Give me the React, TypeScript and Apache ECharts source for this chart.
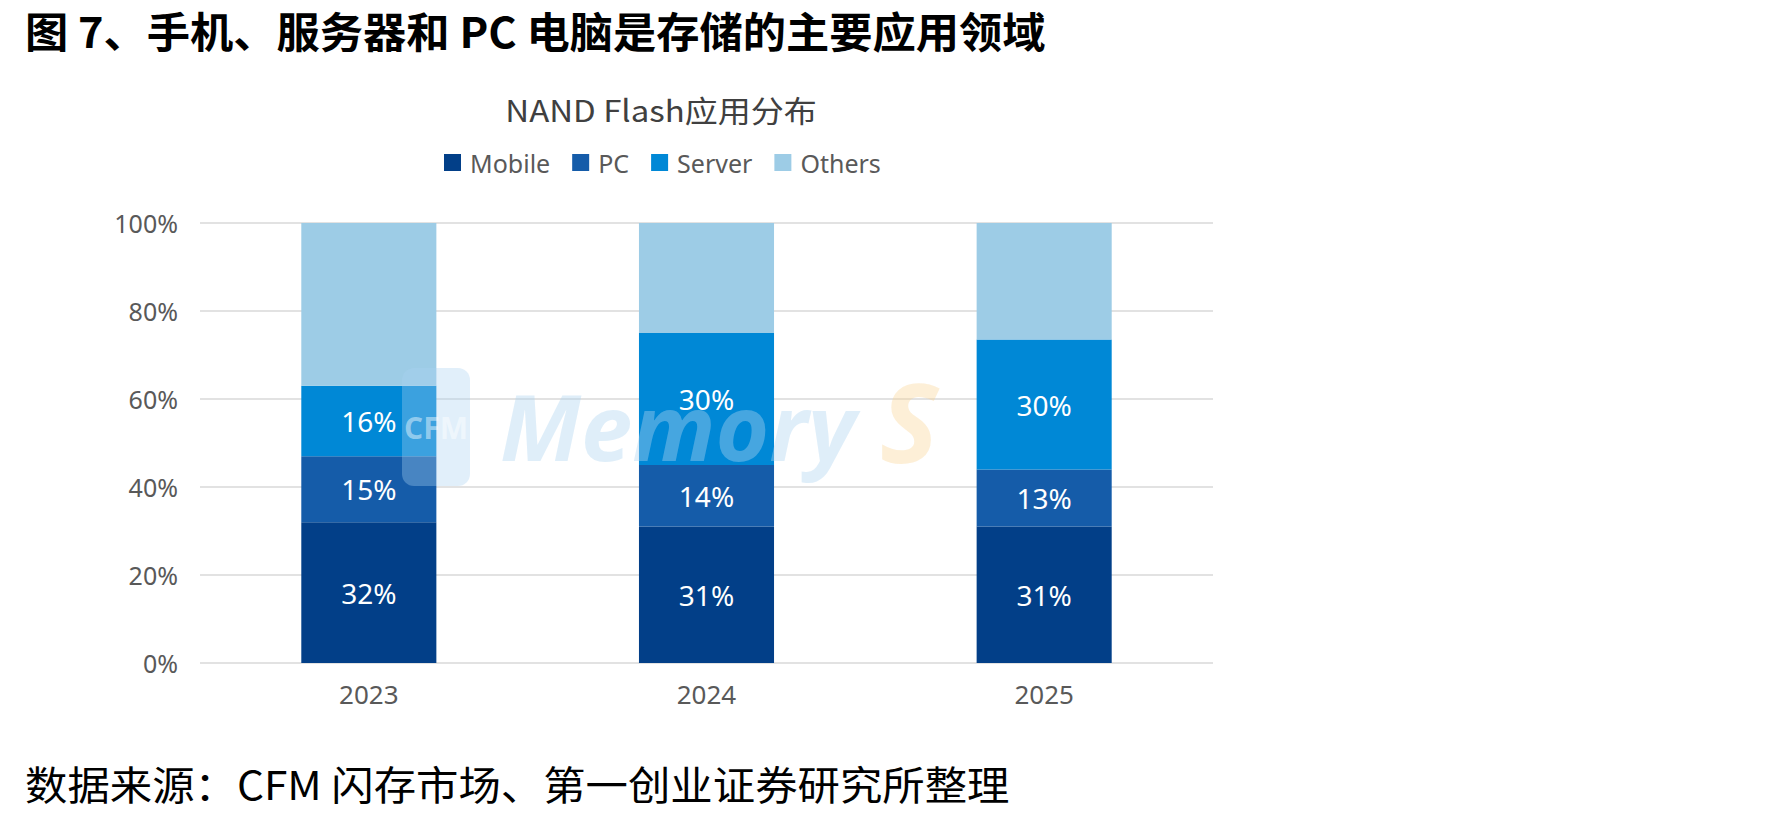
import React, { useEffect, useRef } from "react";
import * as echarts from "echarts";

const categories = ["2023", "2024", "2025"];
const mobile = [32, 31, 31];
const pc = [15, 14, 13];
const server = [16, 30, 29.5];
const others = [37, 25, 26.5];
const yTicks = [0, 20, 40, 60, 80, 100];

const seriesNames = ["Mobile", "PC", "Server", "Others"];
const seriesColors = ["#023f88", "#155ca9", "#0088d6", "#9dcce6"];

export default function App() {
  const ref = useRef<HTMLDivElement>(null);
  useEffect(() => {
    if (!ref.current) return;
    const chart = echarts.init(ref.current, null, { renderer: "svg" });
    const dataSets = [mobile, pc, server, others];
    const series = dataSets.map((d, i) => ({
      name: seriesNames[i],
      type: "bar",
      stack: "total",
      barWidth: "40%",
      data: d,
      itemStyle: { color: seriesColors[i] },
      label: {
        show: i < 3,
        position: "inside",
        color: "#ffffff",
        fontSize: 28,
        fontFamily: "Noto Sans",
        formatter: (p: any) => Math.round(p.value) + "%",
      },
    }));
    chart.setOption({
      animation: false,
      backgroundColor: "#ffffff",
      legend: {
        left: 439,
        top: 145,
        itemWidth: 17,
        itemHeight: 17,
        itemGap: 22,
        icon: "rect",
        textStyle: { fontSize: 25, color: "#595959", fontFamily: "Noto Sans", padding: [0, 0, 0, 4] },
        data: seriesNames,
      },
      grid: { left: 200, right: 565, top: 223, bottom: 156, containLabel: false },
      xAxis: {
        type: "category",
        data: categories,
        axisLine: { show: false },
        axisTick: { show: false },
        axisLabel: { fontSize: 26, color: "#595959", margin: 18, fontFamily: "Noto Sans" },
      },
      yAxis: {
        type: "value",
        min: yTicks[0],
        max: yTicks[yTicks.length - 1],
        interval: 20,
        axisLine: { show: false },
        axisTick: { show: false },
        splitLine: { lineStyle: { color: "#d9d9d9", width: 1.5 } },
        axisLabel: { fontSize: 25, color: "#595959", margin: 22, fontFamily: "Noto Sans", formatter: "{value}%" },
      },
      graphic: [
        {
          type: "text",
          x: 25,
          y: 30,
          scaleX: 1.03,
          style: {
            text: "图 7、手机、服务器和 PC 电脑是存储的主要应用领域",
            font: "bold 42px 'Noto Sans CJK SC'",
            fill: "#000000",
            verticalAlign: "middle",
          },
        },
        {
          type: "text",
          x: 661,
          y: 109,
          scaleX: 1.1,
          style: {
            text: "NAND Flash应用分布",
            font: "30px 'Noto Sans CJK SC'",
            fill: "#404040",
            align: "center",
            verticalAlign: "middle",
          },
        },
        {
          type: "text",
          x: 25,
          y: 783,
          scaleX: 1.06,
          style: {
            text: "数据来源：CFM 闪存市场、第一创业证券研究所整理",
            font: "40px 'Noto Sans CJK SC'",
            fill: "#000000",
            verticalAlign: "middle",
          },
        },
        {
          type: "rect",
          z: 100,
          shape: { x: 402, y: 368, width: 68, height: 118, r: 12 },
          style: { fill: "rgba(170,210,240,0.35)" },
        },
        {
          type: "text",
          z: 101,
          x: 436,
          y: 427,
          style: {
            text: "CFM",
            font: "bold 30px 'Open Sans'",
            fill: "rgba(255,255,255,0.45)",
            align: "center",
            verticalAlign: "middle",
          },
        },
        {
          type: "text",
          z: 100,
          x: 500,
          y: 425,
          style: {
            text: "Memory",
            font: "italic bold 92px 'Open Sans'",
            fill: "rgba(175,212,240,0.4)",
            verticalAlign: "middle",
          },
        },
        {
          type: "text",
          z: 100,
          x: 880,
          y: 420,
          style: {
            text: "S",
            font: "italic bold 110px 'Open Sans'",
            fill: "rgba(250,210,140,0.35)",
            verticalAlign: "middle",
          },
        },
      ],
      series,
    });
    return () => chart.dispose();
  }, []);
  return (
    <div
      ref={ref}
      style={{ position: "fixed", left: 0, top: 0, width: 1778, height: 819 }}
    />
  );
}
